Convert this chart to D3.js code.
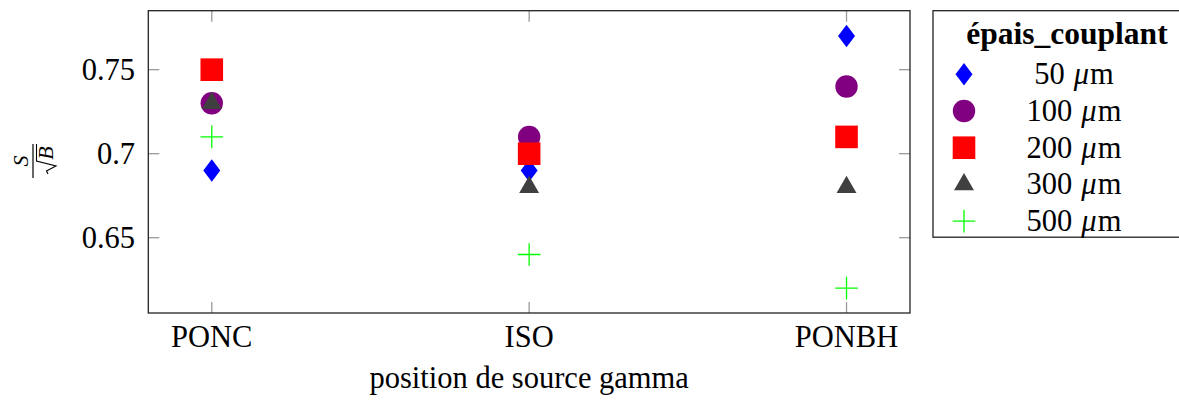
<!DOCTYPE html>
<html><head><meta charset="utf-8">
<script src="https://cdn.jsdelivr.net/npm/d3@7"></script>
<style>
html,body{margin:0;padding:0;background:#fff;}
svg{display:block;}
text{font-family:"Liberation Serif","Times New Roman",serif;fill:#000;}
</style></head>
<body>
<svg id="chart" width="1179" height="400"></svg>
<script>
// ---- data ----
const categories = ["PONC", "ISO", "PONBH"];
const seriesNames = ["50", "100", "200", "300", "500"];
const s50  = [0.69, 0.69, 0.77];
const s100 = [0.73, 0.71, 0.74];
const s200 = [0.75, 0.70, 0.71];
const s300 = [0.73, 0.68, 0.68];
const s500 = [0.71, 0.64, 0.62];
const yTicks = [0.65, 0.7, 0.75];
const yTickLabels = ["0.65", "0.7", "0.75"];
const legendTitle = "épais_couplant";
const xTitle = "position de source gamma";

const seriesValues = [s50, s100, s200, s300, s500];
const shapes = ["diamond", "circle", "square", "triangle", "plus"];
const colors = ["#0000ff", "#800080", "#ff0000", "#404040", "#00ff00"];

const svg = d3.select("#chart");
const L = 148.3, R = 910, T = 10.7, B = 313;

const x = d3.scalePoint().domain(categories).range([L, R]).padding(0.2);
const y = d3.scaleLinear().domain([0.6052, 0.7851]).range([B, T]);

function markerPath(shape) {
  const r = 11.3;
  switch (shape) {
    case "diamond": return `M0,${-r} L${r*0.75},0 L0,${r} L${-r*0.75},0 Z`;
    case "square": return `M${-r},${-r} H${r} V${r} H${-r} Z`;
    case "triangle": {
      const rr = 11.5;
      return `M0,${-rr} L${rr*0.866},${rr/2} L${-rr*0.866},${rr/2} Z`;
    }
    case "plus": return `M${-r},0 H${r} M0,${-r} V${r}`;
  }
  return null;
}
function drawMarker(g, shape, color, cx, cy) {
  if (shape === "circle") {
    g.append("circle").attr("cx", cx).attr("cy", cy).attr("r", 11.2).attr("fill", color);
  } else if (shape === "plus") {
    g.append("path").attr("d", markerPath(shape)).attr("transform", `translate(${cx},${cy})`)
      .attr("fill", "none").attr("stroke", color).attr("stroke-width", 1.3);
  } else {
    g.append("path").attr("d", markerPath(shape)).attr("transform", `translate(${cx},${cy})`)
      .attr("fill", color);
  }
}

// ticks (inward, gray)
const tickLen = 11, tickColor = "#9a9a9a";
const tickG = svg.append("g").attr("stroke", tickColor).attr("stroke-width", 1.3);
yTicks.forEach(v => {
  tickG.append("line").attr("x1", L).attr("x2", L + tickLen).attr("y1", y(v)).attr("y2", y(v));
  tickG.append("line").attr("x1", R - tickLen).attr("x2", R).attr("y1", y(v)).attr("y2", y(v));
});
categories.forEach(c => {
  tickG.append("line").attr("x1", x(c)).attr("x2", x(c)).attr("y1", B).attr("y2", B - tickLen);
  tickG.append("line").attr("x1", x(c)).attr("x2", x(c)).attr("y1", T).attr("y2", T + tickLen);
});

// markers
const mg = svg.append("g");
seriesValues.forEach((vals, si) => {
  vals.forEach((v, ci) => drawMarker(mg, shapes[si], colors[si], x(categories[ci]), y(v)));
});

// frame
svg.append("rect").attr("x", L).attr("y", T).attr("width", R - L).attr("height", B - T)
  .attr("fill", "none").attr("stroke", "#222").attr("stroke-width", 1.3);

// y tick labels
yTicks.forEach((v, i) => {
  svg.append("text").attr("x", 135).attr("y", y(v) + 10.5).attr("text-anchor", "end")
    .attr("font-size", 30.5).text(yTickLabels[i]);
});
// x tick labels
categories.forEach(c => {
  svg.append("text").attr("x", x(c)).attr("y", 347).attr("text-anchor", "middle")
    .attr("font-size", 30.5).text(c);
});
// x title
svg.append("text").attr("x", (L + R) / 2).attr("y", 388).attr("text-anchor", "middle")
  .attr("font-size", 30.5).text(xTitle);

// y title: S / sqrt(B)
const yl = svg.append("g").attr("transform", "translate(33,161) rotate(-90)");
yl.append("text").attr("x", 0).attr("y", -5).attr("text-anchor", "middle")
  .attr("font-size", 22).attr("font-style", "italic").text("S");
yl.append("line").attr("x1", -17).attr("x2", 17).attr("y1", 0).attr("y2", 0)
  .attr("stroke", "#000").attr("stroke-width", 1.2);
yl.append("text").attr("x", 8).attr("y", 20).attr("text-anchor", "middle")
  .attr("font-size", 22).attr("font-style", "italic").text("B");
yl.append("path").attr("d", "M-13,15 L-10,13.5 L-5,23 L0,3.5 L17,3.5")
  .attr("fill", "none").attr("stroke", "#000").attr("stroke-width", 1.1);

// legend
const lg = svg.append("g");
lg.append("rect").attr("x", 933).attr("y", 10.7).attr("width", 260).attr("height", 226.5)
  .attr("fill", "#fff").attr("stroke", "#222").attr("stroke-width", 1.3);
lg.append("text").attr("x", 1067).attr("y", 43.5).attr("text-anchor", "middle")
  .attr("font-size", 31.5).attr("font-weight", "bold").text(legendTitle);
seriesNames.forEach((n, i) => {
  const cy = 74.3 + i * 36.7;
  drawMarker(lg, shapes[i], colors[i], 964, cy);
  const t = lg.append("text").attr("x", 1074).attr("y", cy + 10).attr("text-anchor", "middle")
    .attr("font-size", 30.5);
  t.append("tspan").text(n);
  t.append("tspan").attr("dx", 9).attr("font-style", "italic").text("μ");
  t.append("tspan").attr("dx", 1).text("m");
});
</script>
</body></html>
